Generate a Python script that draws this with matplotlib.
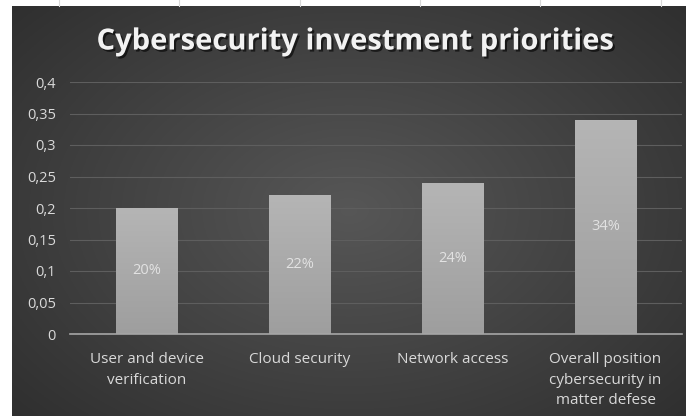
import numpy as np
import matplotlib.pyplot as plt
import matplotlib.patheffects as pe

plt.rcParams['font.family'] = ['Open Sans', 'DejaVu Sans']

# Data
categories = ["User and device\nverification", "Cloud security", "Network access",
              "Overall position\ncybersecurity in\nmatter defese"]
values = [0.20, 0.22, 0.24, 0.34]
value_labels = ["20%", "22%", "24%", "34%"]
yticks = [0, 0.05, 0.1, 0.15, 0.2, 0.25, 0.3, 0.35, 0.4]

fig = plt.figure(figsize=(6.86, 4.16), dpi=100, facecolor="white")

# dark radial background
bg = fig.add_axes([12 / 686, 0, 674 / 686, 410 / 416])
yy, xx = np.mgrid[-1:1:300j, -1:1:400j]
r = np.sqrt((xx / 1.0) ** 2 + (yy / 1.1) ** 2)
img = 0.34 - 0.16 * np.clip(r, 0, 1.4) / 1.4
bg.imshow(np.dstack([img, img, img]), aspect="auto", extent=[0, 1, 0, 1])
bg.set_axis_off()

# faint sheet grid lines in the white strip on top
for gx in [59, 179, 300, 420, 540, 661]:
    fig.add_artist(plt.Line2D([gx / 686] * 2, [410 / 416, 1],
                              color="#d9d9d9", lw=0.8))

ax = fig.add_axes([70 / 686, (416 - 334) / 416, 612 / 686, 252 / 416])
ax.patch.set_alpha(0)

x = np.arange(len(categories))
bars = ax.bar(x, values, width=0.4, color="#a8a8a8", edgecolor="#8a8a8a",
              linewidth=0.6, zorder=3)

# vertical gradient inside each bar
grad = np.linspace(0.71, 0.62, 100).reshape(-1, 1)
for b in bars:
    im = ax.imshow(np.dstack([grad, grad, grad]), aspect="auto",
                   extent=[b.get_x(), b.get_x() + b.get_width(), 0, b.get_height()],
                   zorder=3.5)
    im.set_clip_path(b)

for xi, v, lab in zip(x, values, value_labels):
    ax.text(xi, v / 2, lab, ha="center", va="center", color="#e2e2e2",
            fontsize=10.5, zorder=5)

ax.set_xlim(-0.5, len(categories) - 0.5)
ax.set_ylim(0, 0.4)
ax.set_yticks(yticks)
ax.set_yticklabels([("%g" % t).replace(".", ",") for t in yticks])
ax.set_xticks(x)
ax.set_xticklabels(categories, linespacing=1.5)
ax.tick_params(axis="both", length=0, colors="#d9d9d9")
ax.tick_params(axis="y", pad=10, labelsize=10.5)
ax.tick_params(axis="x", pad=13, labelsize=11)
ax.grid(axis="y", color="#5e5e5e", lw=0.8, zorder=0)
for s in ["top", "right", "left"]:
    ax.spines[s].set_visible(False)
ax.spines["bottom"].set_color("#a6a6a6")
ax.spines["bottom"].set_linewidth(1.2)
ax.spines["bottom"].set_zorder(6)

fig.text(355 / 686, 1 - 42 / 416, "Cybersecurity investment priorities",
         ha="center", va="center", color="#f2f2f2", fontsize=21,
         fontweight="bold",
         path_effects=[pe.withSimplePatchShadow(offset=(1.5, -1.5),
                                                shadow_rgbFace="black", alpha=0.6)])

fig.savefig("out.png", dpi=100, facecolor="white")
